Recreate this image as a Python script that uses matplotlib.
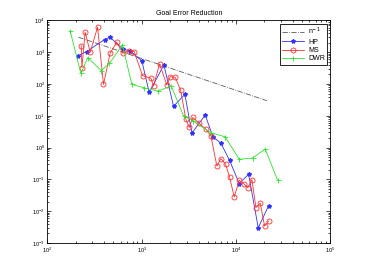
import matplotlib
matplotlib.use("Agg")
import matplotlib.pyplot as plt
import numpy as np

plt.rcParams['font.family'] = ['Liberation Sans', 'DejaVu Sans']
plt.rcParams['mathtext.fontset'] = 'dejavusans'

# reference slope line
ref_n = np.array([213, 21300])
ref_c = 6.35e5

# HP
hp_n = np.array([213, 261, 403, 462, 630, 754, 1002, 1199, 1718, 2175, 2866,
                 3402, 4712, 5680, 6904, 8530, 10820, 13590, 17200, 22100])
hp_err = np.array([787, 1052, 2518, 2978, 1247, 1105, 535, 54.8, 399, 19.9, 47.5,
                   2.86, 10.6, 2.19, 1.38, 0.40, 0.074, 0.146, 0.0030, 0.0146])

# MS
ms_n = np.array([228, 232, 251, 284, 340, 393, 462, 544, 630, 736, 832, 1019,
                 1250, 1334, 1545, 1846, 2003, 2264, 2579, 2937, 3187, 3485,
                 4067, 4786, 5408, 6266, 6904, 7745, 8530, 9570, 10820, 12030,
                 13370, 14730, 16250, 18070, 20080, 22140])
ms_err = np.array([1626, 329, 4285, 1003, 6166, 98, 933, 2075, 933, 1105, 1052, 184,
                   152, 87, 430, 93, 171, 163, 65, 7.9, 4.3, 8.9,
                   5.8, 3.8, 2.36, 0.26, 0.45, 0.30, 0.12, 0.028, 0.094, 0.074,
                   0.055, 0.099, 0.013, 0.018, 0.0034, 0.0049])

# DWR
dwr_n = np.array([174, 226, 268, 372, 455, 625, 785, 1045, 1483, 2052, 2773,
                  3485, 5408, 7670, 10820, 14960, 20400, 27600])
dwr_err = np.array([4720, 218, 681, 265, 451, 1700, 98, 77, 60, 87, 10.1,
                    7.0, 2.93, 2.19, 0.43, 0.47, 0.90, 0.094])

x_ticks = [1e2, 1e3, 1e4, 1e5]
y_ticks = [1e-3, 1e-2, 1e-1, 1e0, 1e1, 1e2, 1e3, 1e4]

fig = plt.figure(figsize=(3.65, 2.73), dpi=100)
ax = fig.add_axes([0.13, 0.11, 0.775, 0.815])

ax.loglog(ref_n, ref_c / ref_n, '-.', color='0.35', lw=0.6, label='n$^{-1}$')
ax.loglog(hp_n, hp_err, '-', color='#3030ff', lw=0.6, marker='*', ms=3,
          label='HP')
ax.loglog(ms_n, ms_err, '-', color='#ff3030', lw=0.6, marker='o', ms=3.6,
          mfc='none', mew=0.6, label='MS')
ax.loglog(dwr_n, dwr_err, '-', color='#30e030', lw=0.6, marker='+', ms=3.6,
          mew=0.6, label='DWR')

ax.set_xlim(1e2, 1e5)
ax.set_ylim(1e-3, 1e4)
ax.set_xticks(x_ticks)
ax.set_yticks(y_ticks)
ax.set_title('Goal Error Reduction', fontsize=5, pad=4)
ax.tick_params(which='both', direction='in', top=True, right=True,
               labelsize=4, width=0.5, pad=2)
ax.tick_params(which='major', length=3)
ax.tick_params(which='minor', length=1.5)
for s in ax.spines.values():
    s.set_linewidth(0.6)

leg = ax.legend(loc='upper right', fontsize=5, fancybox=False,
                edgecolor='black', framealpha=1, borderpad=0.3,
                labelspacing=0.2, handlelength=3.2, handletextpad=0.5,
                borderaxespad=0.5)
leg.get_frame().set_linewidth(0.6)

fig.savefig('out.png', dpi=100)
